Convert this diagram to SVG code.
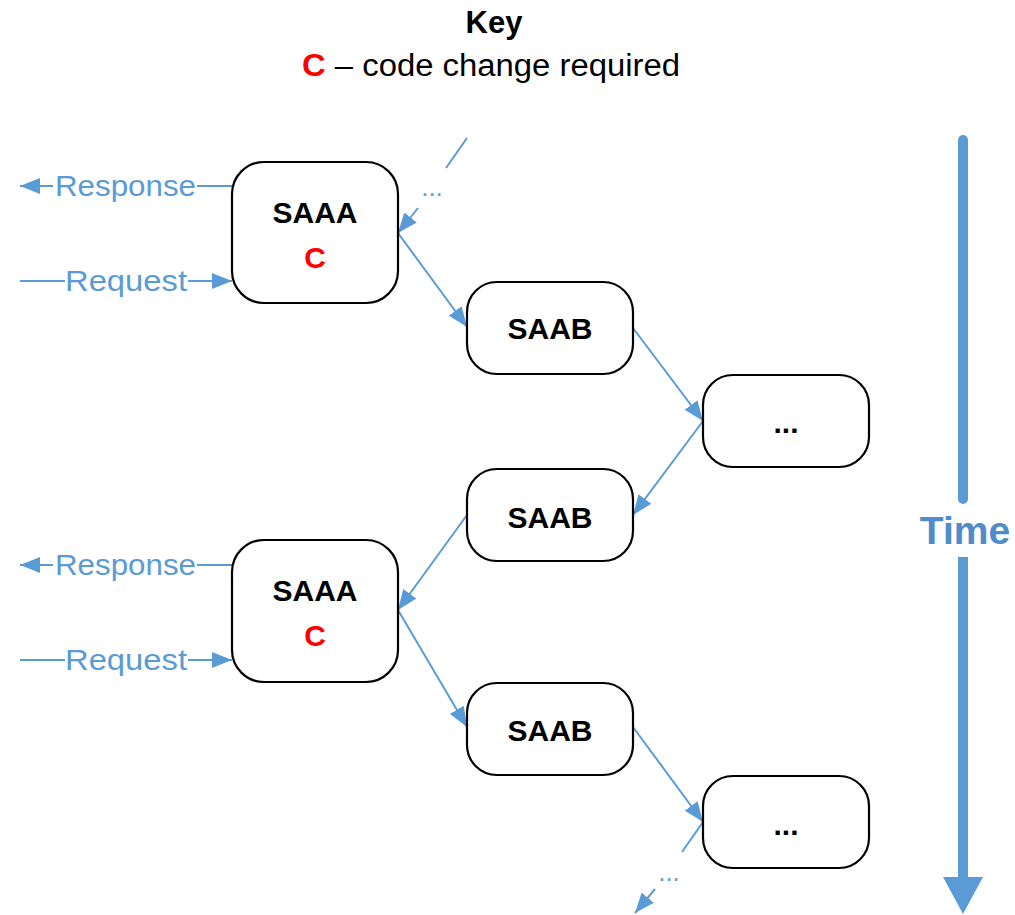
<svg xmlns="http://www.w3.org/2000/svg" width="1015" height="915" viewBox="0 0 1015 915">
  <style>
    .node rect { fill: #fff; stroke: #000; stroke-width: 2.2; }
    .lbl { font-family: "Liberation Sans", Arial, sans-serif; font-weight: bold; font-size: 30px; fill: #000; text-anchor: middle; }
    .chg { fill: #ff0000; }
    .flow { stroke: #5b9bd5; stroke-width: 2; fill: none; }
    .io { font-family: "Liberation Sans", Arial, sans-serif; font-size: 30px; fill: #5b9bd5; }
    .dots { font-family: "Liberation Sans", Arial, sans-serif; font-size: 26px; fill: #5b9bd5; }
    .key { font-family: "Liberation Sans", Arial, sans-serif; font-size: 31px; fill: #000; text-anchor: middle; }
  </style>
  <defs>
    <marker id="arr" viewBox="0 0 20 16" refX="20" refY="8" markerWidth="20" markerHeight="16" markerUnits="userSpaceOnUse" orient="auto">
      <path d="M0,0 L20,8 L0,16 z" fill="#5b9bd5"/>
    </marker>
  </defs>

  <!-- legend -->
  <g id="key">
    <text class="key" x="494" y="33" font-weight="bold">Key</text>
    <text class="key" x="491" y="76" textLength="378" lengthAdjust="spacingAndGlyphs"><tspan fill="#ff0000" font-weight="bold">C</tspan> – code change required</text>
  </g>

  <!-- connectors -->
  <g id="connectors">
    <!-- entry from earlier cycle -->
    <line class="flow" x1="467" y1="138" x2="446" y2="168"/>
    <text class="dots" x="432" y="196" text-anchor="middle">...</text>
    <line class="flow" x1="418" y1="208" x2="398" y2="233" marker-end="url(#arr)"/>

    <line class="flow" x1="398" y1="233" x2="467" y2="327" marker-end="url(#arr)"/>
    <line class="flow" x1="633" y1="328" x2="703" y2="421" marker-end="url(#arr)"/>
    <line class="flow" x1="703" y1="421" x2="633" y2="515" marker-end="url(#arr)"/>
    <line class="flow" x1="467" y1="515" x2="398" y2="610" marker-end="url(#arr)"/>
    <line class="flow" x1="398" y1="610" x2="467" y2="727" marker-end="url(#arr)"/>
    <line class="flow" x1="633" y1="727" x2="703" y2="822" marker-end="url(#arr)"/>

    <!-- continuation -->
    <line class="flow" x1="703" y1="822" x2="682" y2="852"/>
    <text class="dots" x="669" y="881" text-anchor="middle">...</text>
    <line class="flow" x1="655" y1="889" x2="635" y2="913" marker-end="url(#arr)"/>

    <!-- request / response, first cycle -->
    <line class="flow" x1="232" y1="186" x2="197" y2="186"/>
    <line class="flow" x1="53" y1="186" x2="20" y2="186" marker-end="url(#arr)"/>
    <text class="io" x="55" y="196" textLength="141" lengthAdjust="spacingAndGlyphs">Response</text>
    <line class="flow" x1="20" y1="281" x2="65" y2="281"/>
    <text class="io" x="65" y="291" textLength="122" lengthAdjust="spacingAndGlyphs">Request</text>
    <line class="flow" x1="188" y1="281" x2="232" y2="281" marker-end="url(#arr)"/>

    <!-- request / response, second cycle -->
    <line class="flow" x1="232" y1="565" x2="197" y2="565"/>
    <line class="flow" x1="53" y1="565" x2="20" y2="565" marker-end="url(#arr)"/>
    <text class="io" x="55" y="575" textLength="141" lengthAdjust="spacingAndGlyphs">Response</text>
    <line class="flow" x1="20" y1="660" x2="65" y2="660"/>
    <text class="io" x="65" y="670" textLength="122" lengthAdjust="spacingAndGlyphs">Request</text>
    <line class="flow" x1="188" y1="660" x2="232" y2="660" marker-end="url(#arr)"/>
  </g>

  <!-- nodes -->
  <g id="saaa1" class="node">
    <rect x="232" y="162" width="166" height="141" rx="32"/>
    <text class="lbl" x="315" y="223">SAAA</text>
    <text class="lbl chg" x="315" y="268">C</text>
  </g>
  <g id="saab1" class="node">
    <rect x="467" y="282" width="166" height="92" rx="30"/>
    <text class="lbl" x="550" y="339">SAAB</text>
  </g>
  <g id="more1" class="node">
    <rect x="703" y="375" width="166" height="92" rx="30"/>
    <text class="lbl" x="786" y="433">...</text>
  </g>
  <g id="saab2" class="node">
    <rect x="467" y="469" width="166" height="92" rx="30"/>
    <text class="lbl" x="550" y="528">SAAB</text>
  </g>
  <g id="saaa2" class="node">
    <rect x="232" y="540" width="166" height="142" rx="32"/>
    <text class="lbl" x="315" y="601">SAAA</text>
    <text class="lbl chg" x="315" y="646">C</text>
  </g>
  <g id="saab3" class="node">
    <rect x="467" y="683" width="166" height="92" rx="30"/>
    <text class="lbl" x="550" y="741">SAAB</text>
  </g>
  <g id="more2" class="node">
    <rect x="703" y="776" width="166" height="92" rx="30"/>
    <text class="lbl" x="786" y="835">...</text>
  </g>

  <!-- time axis -->
  <g id="time">
    <line x1="963" y1="140" x2="963" y2="499" stroke="#5b9bd5" stroke-width="10" stroke-linecap="round"/>
    <line x1="963" y1="557" x2="963" y2="879" stroke="#5b9bd5" stroke-width="10"/>
    <path d="M943,877 L983,877 L963,914 z" fill="#5b9bd5"/>
    <text x="965" y="544" font-family="Liberation Sans, Arial, sans-serif" font-weight="bold" font-size="39" fill="#4f8cc9" text-anchor="middle">Time</text>
  </g>
</svg>
